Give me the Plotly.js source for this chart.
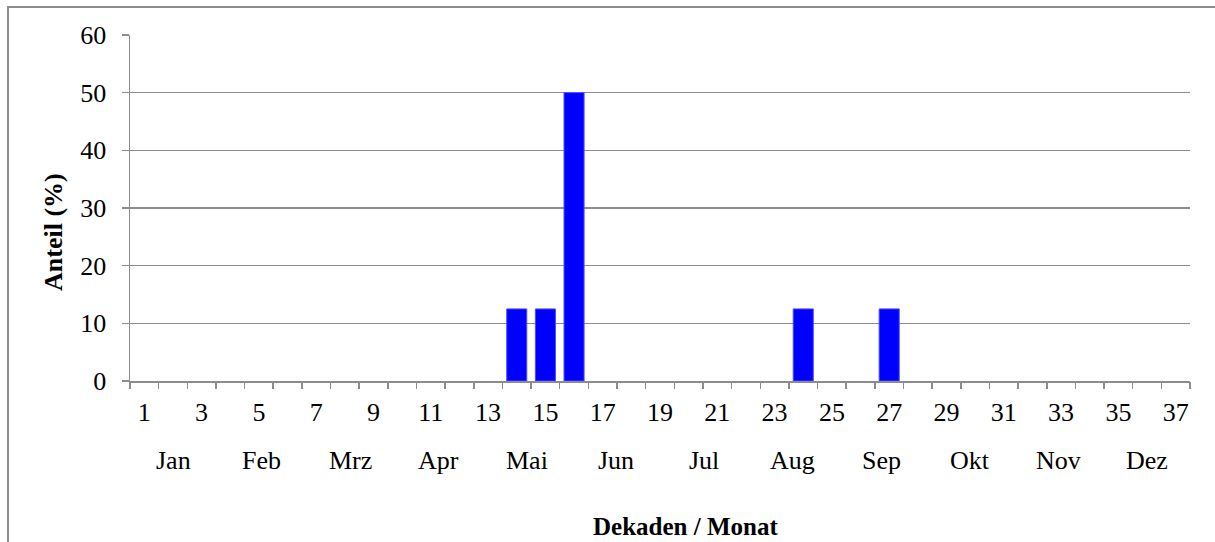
<!DOCTYPE html>
<html>
<head>
<meta charset="utf-8">
<script src="https://cdn.plot.ly/plotly-3.0.1.min.js"></script>
<style>html,body{margin:0;padding:0;background:#fff;}#chart{width:1215px;height:542px;}</style>
</head>
<body>
<div id="chart"></div>
<script>
// Data
const decades = [1,2,3,4,5,6,7,8,9,10,11,12,13,14,15,16,17,18,19,20,21,22,23,24,25,26,27,28,29,30,31,32,33,34,35,36,37];
const shares  = [0,0,0,0,0,0,0,0,0,0,0,0,0,12.5,12.5,50,0,0,0,0,0,0,0,12.5,0,0,12.5,0,0,0,0,0,0,0,0,0,0];
const tickDecades = [1,3,5,7,9,11,13,15,17,19,21,23,25,27,29,31,33,35,37];
const months = ["Jan","Feb","Mrz","Apr","Mai","Jun","Jul","Aug","Sep","Okt","Nov","Dez"];
const yTicks = [0,10,20,30,40,50,60];
const xTitle = "Dekaden / Monat";
const yTitle = "Anteil (%)";

const FONT = "Liberation Serif, Times New Roman, serif";
const FS = 26;
const GRID = "#8c8c8c";

const trace = {
  type: "bar",
  x: decades,
  y: shares,
  marker: {color: "#0000ff", line: {color: "#4a4aff", width: shares.map(v => v > 0 ? 1 : 0)}},
  hoverinfo: "x+y",
  showlegend: false
};
const tickTrace = {
  type: "scatter", x: [], y: [], xaxis: "x2", yaxis: "y", showlegend: false, hoverinfo: "skip"
};

const annotations = months.map((m, i) => ({
  text: m, xref: "paper", yref: "paper",
  x: (173 - 130 + 88.5 * i) / 1060, y: -(461 - 381) / 346,
  xanchor: "center", yanchor: "middle", showarrow: false,
  font: {family: FONT, size: FS, color: "#000"}
}));
annotations.push({
  text: "<b>" + xTitle + "</b>", xref: "paper", yref: "paper",
  x: (685 - 130) / 1060, y: -(526 - 381) / 346,
  xanchor: "center", yanchor: "middle", showarrow: false, borderpad: 0,
  font: {family: FONT, size: 25, color: "#000"}
});
annotations.push({
  text: "<b>" + yTitle + "</b>", xref: "paper", yref: "paper",
  x: (53 - 130) / 1060, y: 1 - (232 - 35) / 346, textangle: -90,
  xanchor: "center", yanchor: "middle", showarrow: false,
  font: {family: FONT, size: FS, color: "#000"}
});

const layout = {
  width: 1215, height: 542,
  margin: {l: 130, r: 25, t: 35, b: 161},
  paper_bgcolor: "#fff", plot_bgcolor: "#fff",
  bargap: 0.3,
  font: {family: FONT, size: FS, color: "#000"},
  xaxis: {
    type: "linear", range: [0.5, 37.5],
    tickmode: "array", tickvals: tickDecades, ticktext: tickDecades.map(String),
    ticks: "", showgrid: false, zeroline: false,
    showline: true, linecolor: GRID, linewidth: 1.5,
    ticklabelstandoff: 7,
    tickfont: {family: FONT, size: FS, color: "#000"},
    fixedrange: true
  },
  xaxis2: {
    type: "linear", range: [0.5, 37.5], overlaying: "x", anchor: "y",
    tickmode: "linear", tick0: 0.5, dtick: 1,
    ticks: "outside", ticklen: 7, tickwidth: 1.5, tickcolor: GRID,
    showticklabels: false, showgrid: false, zeroline: false, showline: false,
    fixedrange: true
  },
  yaxis: {
    range: [0, 60], tickmode: "array", tickvals: yTicks,
    ticks: "outside", ticklen: 7, tickwidth: 1.5, tickcolor: GRID,
    showgrid: true, gridcolor: GRID, gridwidth: 1.5,
    zeroline: false, showline: true, linecolor: GRID, linewidth: 1.5,
    ticklabelstandoff: 10,
    tickfont: {family: FONT, size: FS, color: "#000"},
    fixedrange: true
  },
  annotations: annotations,
  shapes: [{
    type: "rect", xref: "paper", yref: "paper",
    x0: (8 - 130) / 1060, x1: 1.2, y0: -0.6, y1: 1 + (35 - 7) / 346,
    line: {color: "#8c8c8c", width: 2}, fillcolor: "rgba(0,0,0,0)", layer: "below"
  }]
};

Plotly.newPlot("chart", [trace, tickTrace], layout, {displayModeBar: false, staticPlot: true});
</script>
</body>
</html>
